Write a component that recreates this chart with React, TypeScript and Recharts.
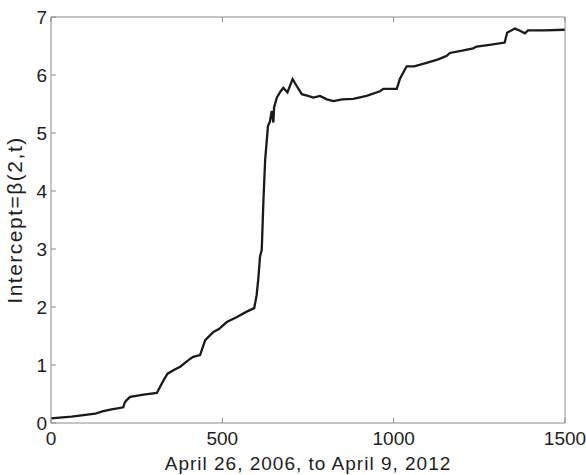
import { LineChart, Line, XAxis, YAxis, Label } from 'recharts'

const days = [
  0, 60, 129, 150, 173, 211, 215, 220, 231, 270, 309, 318, 328, 340, 360, 377, 400, 415, 435, 450,
  474, 490, 513, 540, 571, 593, 600, 605, 610, 615, 620, 625, 630, 633, 639, 644, 649, 651, 659, 668,
  678, 690, 705, 717, 732, 750, 766, 785, 805, 824, 850, 882, 921, 960, 970, 1009, 1018, 1038, 1060, 1096,
  1130, 1155, 1164, 1200, 1232, 1242, 1280, 1324, 1331, 1354, 1370, 1383, 1392, 1440, 1500,
]

const intercept = [
  0.08, 0.11, 0.16, 0.2, 0.23, 0.27, 0.35, 0.39, 0.45, 0.49, 0.52, 0.62, 0.73, 0.85, 0.92, 0.97, 1.08, 1.14, 1.17, 1.43,
  1.57, 1.62, 1.74, 1.82, 1.92, 1.98, 2.2, 2.49, 2.87, 2.98, 3.85, 4.54, 4.89, 5.12, 5.2, 5.38, 5.18, 5.44, 5.61, 5.7,
  5.78, 5.7, 5.93, 5.81, 5.67, 5.64, 5.61, 5.64, 5.58, 5.55, 5.58, 5.59, 5.64, 5.72, 5.76, 5.76, 5.93, 6.15, 6.15, 6.21,
  6.27, 6.33, 6.38, 6.42, 6.46, 6.49, 6.52, 6.56, 6.73, 6.8, 6.76, 6.72, 6.77, 6.77, 6.78,
]

const xTicks = [0, 500, 1000, 1500]
const yTicks = [0, 1, 2, 3, 4, 5, 6, 7]

const xTitle = 'April 26, 2006, to April 9, 2012'
const yTitle = 'Intercept=β(2,t)'

const data = days.map((d, i) => ({ t: d, v: intercept[i] }))

const FONT = '"Liberation Sans", Arial, sans-serif'
const AXIS = '#8a8a8a'
const tickStyle = { fontSize: 19, fill: '#1e1e1e', fontFamily: FONT }

// box edges: tick marks only, no labels
const noLabel = () => <g />

export default function App() {
  return (
    <div style={{ position: 'absolute', left: 0, top: 0 }}>
      <LineChart width={586} height={475} data={data} margin={{ top: 0, right: 0, bottom: 0, left: 0 }}>
        <XAxis
          dataKey="t"
          type="number"
          domain={[0, 1500]}
          ticks={xTicks}
          height={52}
          stroke={AXIS}
          tickSize={-5}
          tickMargin={14}
          tick={tickStyle}
        >
          <Label
            value={xTitle}
            position="insideBottom"
            offset={5}
            style={{ fontSize: 19, fill: '#1e1e1e', fontFamily: FONT, letterSpacing: 1 }}
          />
        </XAxis>
        <XAxis
          xAxisId="top"
          orientation="top"
          dataKey="t"
          type="number"
          domain={[0, 1500]}
          ticks={xTicks}
          height={17}
          stroke={AXIS}
          tickSize={-5}
          tick={noLabel}
        />
        <YAxis
          type="number"
          domain={[0, 7]}
          ticks={yTicks}
          width={51}
          stroke={AXIS}
          tickSize={-5}
          tickMargin={9}
          tick={tickStyle}
        >
          <Label
            content={({ viewBox }: any) => {
              const cx = viewBox.x + 22
              const cy = viewBox.y + viewBox.height / 2
              return (
                <text
                  x={cx}
                  y={cy}
                  transform={`rotate(-90 ${cx} ${cy})`}
                  textAnchor="middle"
                  style={{ fontSize: 21, fill: '#1e1e1e', fontFamily: FONT, letterSpacing: 1.5 }}
                >
                  {yTitle}
                </text>
              )
            }}
          />
        </YAxis>
        <YAxis
          yAxisId="right"
          orientation="right"
          type="number"
          domain={[0, 7]}
          ticks={yTicks}
          width={21}
          stroke={AXIS}
          tickSize={-5}
          tick={noLabel}
        />
        <Line
          type="linear"
          dataKey="v"
          stroke="#1a1a1a"
          strokeWidth={2.3}
          dot={false}
          isAnimationActive={false}
        />
      </LineChart>
    </div>
  )
}
